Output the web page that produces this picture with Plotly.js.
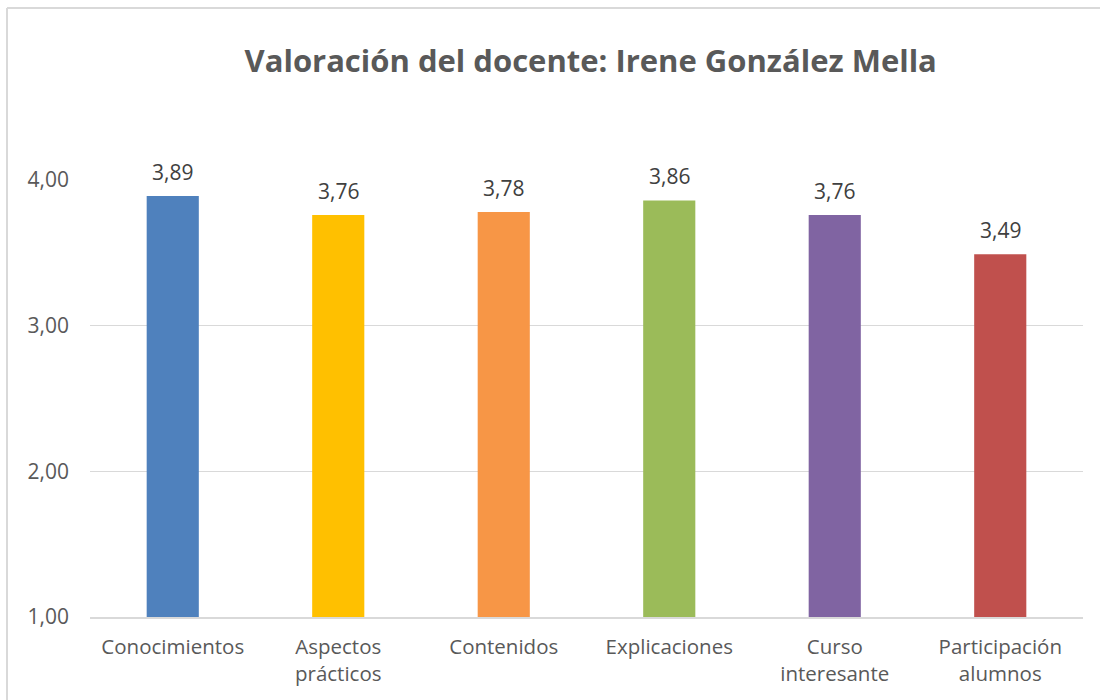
<!DOCTYPE html>
<html>
<head>
<meta charset="utf-8">
<script src="https://cdn.plot.ly/plotly-3.0.1.min.js"></script>
<style>
  html, body { margin: 0; padding: 0; background: #fff; overflow: hidden; }
  #chart { width: 1100px; height: 700px; }
</style>
</head>
<body>
<div id="chart"></div>
<script>
const categories = ["Conocimientos", "Aspectos<br>prácticos", "Contenidos", "Explicaciones", "Curso<br>interesante", "Participación<br>alumnos"];
const values = [3.89, 3.76, 3.78, 3.86, 3.76, 3.49];
const barColors = ["#4F81BD", "#FFC000", "#F79646", "#9BBB59", "#8064A2", "#C0504D"];
const yTicks = [1, 2, 3, 4];
const titleText = "Valoración del docente: Irene González Mella";

const textFont = "'Open Sans', sans-serif";
const gray = "#595959";

const W = 1100, H = 700;
const M = { l: 90, r: 17, t: 180, b: 83 };
const plotW = W - M.l - M.r, plotH = H - M.t - M.b;
// outer chart frame (left and top edges visible)
const frameLeftPx = 7, frameTopPx = 8;
const fx = (frameLeftPx - M.l) / plotW;
const fy = (H - M.b - frameTopPx) / plotH;

const trace = {
  type: "bar",
  x: categories,
  y: values,
  marker: { color: barColors },
  hoverinfo: "none"
};

const labelAnnotations = categories.map((c, i) => ({
  x: c,
  y: values[i],
  xref: "x",
  yref: "y",
  text: values[i].toFixed(2).replace(".", ","),
  showarrow: false,
  yanchor: "middle",
  yshift: 24,
  font: { family: textFont, size: 21, color: "#404040" }
}));

const layout = {
  width: W,
  height: H,
  paper_bgcolor: "#ffffff",
  plot_bgcolor: "#ffffff",
  separators: ",.",
  margin: M,
  bargap: 0.685,
  showlegend: false,
  title: {
    text: "<b>" + titleText + "</b>",
    font: { family: textFont, size: 31, color: gray },
    x: 0.537,
    xanchor: "center",
    y: 0.912,
    yanchor: "middle"
  },
  xaxis: {
    type: "category",
    showgrid: false,
    zeroline: false,
    showline: true,
    linecolor: "#d9d9d9",
    linewidth: 1.5,
    ticks: "",
    tickfont: { family: textFont, size: 20.5, color: gray },
    ticklabelstandoff: 11
  },
  yaxis: {
    range: [1, 4],
    tickvals: yTicks,
    tickformat: ".2f",
    showgrid: true,
    gridcolor: "#d9d9d9",
    gridwidth: 1.5,
    zeroline: false,
    showline: false,
    ticks: "",
    tickfont: { family: textFont, size: 21, color: gray },
    ticklabelstandoff: 20
  },
  annotations: labelAnnotations,
  shapes: [
    { type: "line", xref: "paper", yref: "paper", x0: fx, x1: fx, y0: -1, y1: fy,
      line: { color: "#d9d9d9", width: 2 } },
    { type: "line", xref: "paper", yref: "paper", x0: fx, x1: 2, y0: fy, y1: fy,
      line: { color: "#d9d9d9", width: 2 } }
  ]
};
Plotly.newPlot("chart", [trace], layout, { displayModeBar: false, staticPlot: true });
</script>
</body>
</html>
